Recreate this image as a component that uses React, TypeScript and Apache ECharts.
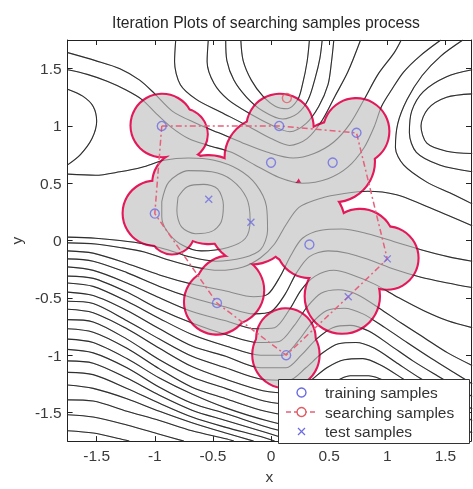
import React, { useEffect, useRef } from 'react';
import * as echarts from 'echarts';

// ---------- contour lines (data units) ----------
const cP1 = [[-1.75,1.32],[-1.62,1.26],[-1.53,1.17],[-1.50,1.04],[-1.54,0.89],[-1.64,0.75],[-1.75,0.66]];
const cMa = [[-0.80,0.38],[-0.72,0.47],[-0.58,0.49],[-0.46,0.45],[-0.41,0.31],[-0.43,0.16],[-0.51,0.08],[-0.65,0.06],[-0.77,0.12],[-0.81,0.26],[-0.80,0.38]];
const cMb = [[-0.94,0.34],[-0.88,0.51],[-0.71,0.61],[-0.51,0.60],[-0.34,0.53],[-0.21,0.37],[-0.18,0.18],[-0.22,0.02],[-0.37,-0.06],[-0.60,-0.09],[-0.78,-0.03],[-0.90,0.09],[-0.94,0.21],[-0.94,0.34]];
const cMc = [[-1.75,0.58],[-1.51,0.57],[-1.30,0.60],[-1.11,0.64],[-0.92,0.70],[-0.71,0.72],[-0.49,0.70],[-0.28,0.62],[-0.13,0.49],[-0.04,0.30],[-0.03,0.09],[-0.09,-0.08],[-0.24,-0.15],[-0.48,-0.18],[-0.71,-0.14],[-0.89,-0.08],[-1.09,-0.03],[-1.30,0.00],[-1.51,0.02],[-1.75,0.03]];
const cV4 = [[-0.26,1.75],[-0.24,1.57],[-0.17,1.40],[-0.07,1.26],[0.04,1.17],[0.14,1.15],[0.23,1.23],[0.27,1.36],[0.31,1.56],[0.33,1.75]];
const cV3 = [[-0.39,1.75],[-0.38,1.57],[-0.32,1.40],[-0.21,1.25],[-0.07,1.13],[0.10,1.06],[0.23,1.11],[0.32,1.23],[0.38,1.42],[0.42,1.59],[0.44,1.75]];
const cV2 = [[-0.54,1.75],[-0.55,1.56],[-0.49,1.37],[-0.37,1.23],[-0.17,1.10],[0.02,1.00],[0.16,0.95],[0.30,1.02],[0.41,1.17],[0.49,1.36],[0.52,1.56],[0.54,1.75]];
const cV1 = [[-0.82,1.75],[-0.83,1.56],[-0.78,1.36],[-0.64,1.23],[-0.43,1.12],[-0.20,1.00],[0.00,0.89],[0.16,0.83],[0.31,0.89],[0.44,1.05],[0.55,1.26],[0.66,1.47],[0.77,1.75]];
const cV0 = [[-1.75,1.64],[-1.51,1.57],[-1.30,1.50],[-1.13,1.40],[-1.00,1.28],[-0.85,1.13],[-0.66,1.03],[-0.45,0.94],[-0.24,0.85],[-0.03,0.77],[0.19,0.72],[0.37,0.76],[0.54,0.86],[0.68,1.02],[0.80,1.23],[0.92,1.45],[1.06,1.64],[1.12,1.75]];
const cVm1 = [[-1.75,1.49],[-1.58,1.45],[-1.41,1.39],[-1.26,1.32],[-1.11,1.23],[-0.99,1.11],[-0.86,0.99],[-0.71,0.89],[-0.54,0.83],[-0.34,0.77],[-0.14,0.66],[0.07,0.55],[0.27,0.50],[0.49,0.54],[0.66,0.64],[0.80,0.81],[0.89,1.00],[0.95,1.17],[1.04,1.32],[1.14,1.47],[1.28,1.61],[1.46,1.75]];
const cR1 = [[1.73,1.28],[1.51,1.25],[1.35,1.15],[1.29,1.00],[1.34,0.85],[1.51,0.78],[1.73,0.76]];
const cR2 = [[1.73,1.49],[1.51,1.43],[1.31,1.30],[1.21,1.13],[1.19,0.94],[1.25,0.77],[1.45,0.66],[1.73,0.60]];
const cR3 = [[1.65,1.75],[1.46,1.61],[1.30,1.44],[1.17,1.23],[1.09,1.02],[1.07,0.81],[1.14,0.66],[1.34,0.51],[1.55,0.41],[1.73,0.32]];
const cW1 = [[-1.75,-0.02],[-1.51,-0.03],[-1.30,-0.06],[-1.09,-0.10],[-0.88,-0.17],[-0.66,-0.23],[-0.45,-0.26],[-0.24,-0.23],[-0.09,-0.15],[0.03,-0.03],[0.13,0.14],[0.24,0.29],[0.43,0.37],[0.63,0.41],[0.83,0.43],[1.08,0.40],[1.31,0.31],[1.52,0.22],[1.73,0.13]];
const cW2 = [[-1.75,-0.09],[-1.53,-0.11],[-1.24,-0.20],[-0.96,-0.30],[-0.68,-0.38],[-0.39,-0.44],[-0.15,-0.49],[-0.03,-0.47],[0.08,-0.31],[0.17,-0.13],[0.27,0.02],[0.43,0.09],[0.61,0.10],[0.83,0.06],[1.06,-0.01],[1.29,-0.08],[1.52,-0.14],[1.73,-0.18]];
const cW3 = [[-1.75,-0.16],[-1.53,-0.18],[-1.24,-0.28],[-0.96,-0.40],[-0.68,-0.50],[-0.39,-0.58],[-0.15,-0.64],[0.00,-0.62],[0.12,-0.47],[0.22,-0.28],[0.33,-0.14],[0.49,-0.09],[0.66,-0.11],[0.85,-0.17],[1.06,-0.25],[1.29,-0.32],[1.52,-0.37],[1.73,-0.41]];
const cW4 = [[-1.75,-0.23],[-1.53,-0.26],[-1.24,-0.37],[-0.96,-0.50],[-0.68,-0.62],[-0.39,-0.70],[-0.14,-0.77],[0.03,-0.76],[0.16,-0.60],[0.26,-0.43],[0.38,-0.31],[0.54,-0.26],[0.70,-0.30],[0.89,-0.38],[1.10,-0.50],[1.31,-0.61],[1.52,-0.70],[1.73,-0.76]];
const cW5 = [[-1.75,-0.31],[-1.53,-0.33],[-1.24,-0.45],[-0.96,-0.60],[-0.68,-0.72],[-0.39,-0.82],[-0.11,-0.89],[0.07,-0.88],[0.20,-0.74],[0.31,-0.58],[0.43,-0.46],[0.58,-0.43],[0.74,-0.47],[0.93,-0.59],[1.12,-0.72],[1.32,-0.85],[1.52,-0.98],[1.73,-1.09]];
const cW6 = [[-1.75,-0.37],[-1.53,-0.40],[-1.24,-0.53],[-0.96,-0.68],[-0.68,-0.82],[-0.39,-0.92],[-0.09,-1.00],[0.10,-1.00],[0.23,-0.88],[0.35,-0.72],[0.48,-0.61],[0.63,-0.59],[0.79,-0.64],[0.98,-0.76],[1.17,-0.89],[1.38,-1.03],[1.57,-1.15],[1.73,-1.25]];
const cW7 = [[-1.75,-0.45],[-1.53,-0.48],[-1.24,-0.61],[-0.96,-0.77],[-0.68,-0.92],[-0.39,-1.01],[-0.09,-1.11],[0.13,-1.11],[0.26,-1.00],[0.39,-0.86],[0.53,-0.76],[0.68,-0.74],[0.84,-0.79],[1.02,-0.91],[1.22,-1.05],[1.43,-1.18],[1.73,-1.36]];
const cW8 = [[-1.75,-0.53],[-1.53,-0.55],[-1.24,-0.70],[-0.96,-0.86],[-0.68,-1.01],[-0.39,-1.11],[-0.08,-1.21],[0.15,-1.22],[0.30,-1.11],[0.43,-0.99],[0.58,-0.90],[0.73,-0.89],[0.89,-0.94],[1.07,-1.06],[1.28,-1.20],[1.51,-1.34],[1.73,-1.47]];
const cW9 = [[-1.75,-0.60],[-1.53,-0.63],[-1.24,-0.77],[-0.96,-0.94],[-0.68,-1.10],[-0.39,-1.21],[-0.07,-1.31],[0.18,-1.33],[0.33,-1.23],[0.48,-1.11],[0.63,-1.04],[0.79,-1.03],[0.95,-1.09],[1.14,-1.21],[1.36,-1.35],[1.59,-1.49],[1.73,-1.57]];
const cW10 = [[-1.75,-0.69],[-1.53,-0.71],[-1.24,-0.86],[-0.96,-1.04],[-0.68,-1.19],[-0.39,-1.29],[-0.06,-1.40],[0.20,-1.43],[0.37,-1.35],[0.52,-1.25],[0.68,-1.18],[0.84,-1.18],[1.01,-1.24],[1.21,-1.36],[1.44,-1.51],[1.73,-1.68]];
const cD1 = [[-1.75,-0.77],[-1.53,-0.80],[-1.24,-0.94],[-0.96,-1.12],[-0.68,-1.28],[-0.39,-1.38],[-0.05,-1.49],[0.23,-1.53],[0.40,-1.47],[0.56,-1.39],[0.73,-1.34],[0.90,-1.34],[1.08,-1.41],[1.29,-1.54],[1.53,-1.69],[1.63,-1.75]];
const cD2 = [[-1.75,-0.86],[-1.53,-0.89],[-1.24,-1.03],[-0.96,-1.20],[-0.68,-1.34],[-0.39,-1.46],[-0.04,-1.57],[0.26,-1.63],[0.44,-1.59],[0.61,-1.52],[0.79,-1.49],[0.97,-1.52],[1.17,-1.60],[1.40,-1.72],[1.46,-1.75]];
const cD3 = [[-1.75,-0.95],[-1.53,-0.98],[-1.24,-1.11],[-0.96,-1.28],[-0.68,-1.42],[-0.39,-1.51],[-0.03,-1.63],[0.27,-1.71],[0.37,-1.75]];
const cD4 = [[-1.75,-1.05],[-1.53,-1.07],[-1.24,-1.20],[-0.96,-1.35],[-0.68,-1.48],[-0.39,-1.57],[-0.03,-1.68],[0.19,-1.75]];
const cD5 = [[-1.75,-1.15],[-1.53,-1.17],[-1.24,-1.29],[-0.96,-1.42],[-0.68,-1.54],[-0.39,-1.63],[-0.09,-1.71],[0.03,-1.75]];
const cD6 = [[-1.75,-1.26],[-1.53,-1.29],[-1.24,-1.38],[-0.96,-1.49],[-0.68,-1.59],[-0.39,-1.68],[-0.15,-1.75]];
const cD7 = [[-1.75,-1.39],[-1.53,-1.40],[-1.24,-1.49],[-0.96,-1.57],[-0.68,-1.66],[-0.39,-1.73],[-0.32,-1.75]];
const cD8 = [[-1.75,-1.52],[-1.53,-1.54],[-1.24,-1.61],[-0.96,-1.69],[-0.75,-1.75]];
const cD9 = [[-1.75,-1.66],[-1.53,-1.68],[-1.30,-1.73],[-1.22,-1.75]];

const contourLines = [cP1, cMa, cMb, cMc, cV4, cV3, cV2, cV1, cV0, cVm1, cR1, cR2, cR3,
  cW1, cW2, cW3, cW4, cW5, cW6, cW7, cW8, cW9, cW10, cD1, cD2, cD3, cD4, cD5, cD6, cD7, cD8, cD9];

// ---------- samples ----------
const trainingSamples = [[-0.94, 1.0], [-1.0, 0.235], [0.07, 1.0], [0.735, 0.94], [0.0, 0.68], [0.53, 0.68], [0.33, -0.035], [-0.465, -0.545], [0.13, -1.0]];
const searchingSamples = [[0.136, 1.243]];
const testSamples = [[-0.536, 0.36], [-0.173, 0.16], [1.0, -0.16], [0.664, -0.49]];
const searchPath = [[-0.94, 1.0], [0.07, 1.0], [0.735, 0.94], [1.0, -0.16], [0.664, -0.49], [0.13, -1.0], [-0.465, -0.545], [-1.0, 0.235], [-0.94, 1.0]];

// covered regions: [centerX, centerY, radius]
const regionCircles = [
  [-0.936, 1.004, 0.264], [-0.766, 0.928, 0.213], [0.077, 0.987, 0.281], [0.732, 0.953, 0.277],
  [-0.051, 0.723, 0.340], [0.545, 0.689, 0.340], [-0.536, 0.357, 0.374], [-0.749, 0.502, 0.264],
  [-0.996, 0.238, 0.272], [-0.851, 0.077, 0.187], [-0.170, 0.162, 0.357], [0.272, 0.145, 0.357],
  [0.332, -0.034, 0.281], [0.766, -0.026, 0.289], [0.996, -0.153, 0.264], [0.613, -0.485, 0.315],
  [-0.468, -0.536, 0.272], [-0.357, -0.434, 0.289], [0.128, -0.851, 0.247], [0.128, -0.996, 0.281],
];

const tickValues = [-1.5, -1, -0.5, 0, 0.5, 1, 1.5];
const titleText = 'Iteration Plots of searching samples process';
const legendLabels = ['training samples', 'searching samples', 'test samples'];

const FONT = "'Liberation Sans', Arial, Helvetica, sans-serif";
const FILL = '#d6d6d6';
const CRIMSON = '#e3195a';
const BLUE = '#6c6ce2';
const RED = '#e35a62';
const PATH_RED = '#e6607a';

export default function App() {
  const ref = useRef<HTMLDivElement>(null);

  useEffect(() => {
    if (!ref.current) return;
    const chart = echarts.init(ref.current, null, { renderer: 'svg' });

    const contourBase = contourLines.map((pts) => ({
      type: 'line', data: pts, symbol: 'none', showSymbol: false, smooth: 0.3, silent: true, z: 1,
      clip: true, lineStyle: { color: '#484848', width: 1.1 },
    }));
    const contourOver = contourLines.map((pts) => ({
      type: 'line', data: pts, symbol: 'none', showSymbol: false, smooth: 0.3, silent: true, z: 5,
      clip: true, lineStyle: { color: 'rgba(0,0,0,0.36)', width: 1.05 },
    }));
    const circleLayer = (stroke: boolean) => ({
      type: 'custom', coordinateSystem: 'cartesian2d', data: regionCircles, silent: true, clip: true,
      z: stroke ? 3 : 4, encode: { x: 0, y: 1 },
      renderItem: (_p: any, api: any) => {
        const c = api.coord([api.value(0), api.value(1)]);
        const r = api.size([api.value(2), 0])[0];
        return {
          type: 'circle',
          shape: { cx: c[0], cy: c[1], r },
          style: stroke ? { fill: FILL, stroke: CRIMSON, lineWidth: 4.2 } : { fill: FILL, stroke: 'none', lineWidth: 0 },
        };
      },
    });

    const axisBase = {
      type: 'value', splitLine: { show: false },
      axisLine: { show: true, onZero: false, lineStyle: { color: '#222', width: 1 } },
      axisTick: { show: true, inside: true, length: 5, customValues: tickValues, lineStyle: { color: '#222', width: 1 } },
    };
    const labelStyle = { customValues: tickValues, fontSize: 15.5, color: '#3a3a3a', fontFamily: FONT };

    const legendX = 278.5, legendY = 379.5;
    const rowY = [392.5, 412, 431.5];

    chart.setOption({
      animation: false,
      grid: { left: 63, top: 40, width: 408, height: 410, containLabel: false },
      xAxis: [
        { ...axisBase, min: -1.75, max: 1.72, position: 'bottom', axisLabel: { ...labelStyle, margin: 6 },
          name: 'x', nameLocation: 'middle', nameGap: 34, nameTextStyle: { fontSize: 15.5, color: '#3a3a3a', fontFamily: FONT, verticalAlign: 'middle' } },
        { ...axisBase, min: -1.75, max: 1.72, position: 'top', axisLabel: { show: false } },
      ],
      yAxis: [
        { ...axisBase, min: -1.75, max: 1.75, position: 'left', axisLabel: { ...labelStyle, margin: 6 },
          name: 'y', nameLocation: 'middle', nameGap: 51, nameTextStyle: { fontSize: 15.5, color: '#3a3a3a', fontFamily: FONT, verticalAlign: 'middle' } },
        { ...axisBase, min: -1.75, max: 1.75, position: 'right', axisLabel: { show: false } },
      ],
      series: [
        ...contourBase,
        circleLayer(true),
        circleLayer(false),
        ...contourOver,
        {
          type: 'line', data: searchPath, symbol: 'none', showSymbol: false, silent: true, z: 6, clip: false,
          lineStyle: { color: PATH_RED, width: 1.5, type: [6, 3, 2, 3] },
        },
        {
          type: 'scatter', data: trainingSamples, symbol: 'circle', symbolSize: 9, silent: true, z: 7,
          itemStyle: { color: 'rgba(0,0,0,0)', borderColor: BLUE, borderWidth: 1.4 },
        },
        {
          type: 'scatter', data: searchingSamples, symbol: 'circle', symbolSize: 9, silent: true, z: 7,
          itemStyle: { color: 'rgba(0,0,0,0)', borderColor: RED, borderWidth: 1.4 },
        },
        {
          type: 'scatter', data: testSamples, symbol: 'path://M0,0L10,10M10,0L0,10', symbolSize: 7, silent: true, z: 7,
          itemStyle: { color: 'none', borderColor: BLUE, borderWidth: 1.3 },
        },
      ],
      graphic: [
        { type: 'text', x: 266, y: 22, z: 100, style: { text: titleText, font: `15.7px ${FONT}`, fill: '#262626', textAlign: 'center', textVerticalAlign: 'middle' } },
        { type: 'rect', z: 100, shape: { x: legendX, y: legendY, width: 191, height: 64 }, style: { fill: '#ffffff', stroke: '#333', lineWidth: 1 } },
        { type: 'circle', z: 101, shape: { cx: 301.5, cy: rowY[0], r: 4.5 }, style: { fill: 'none', stroke: BLUE, lineWidth: 1.4 } },
        { type: 'line', z: 101, shape: { x1: 286, y1: rowY[1], x2: 318, y2: rowY[1] }, style: { stroke: PATH_RED, lineWidth: 1.5, lineDash: [5, 3] } },
        { type: 'circle', z: 102, shape: { cx: 301.5, cy: rowY[1], r: 4.5 }, style: { fill: '#fff', stroke: RED, lineWidth: 1.4 } },
        { type: 'line', z: 101, shape: { x1: 298, y1: rowY[2] - 3.5, x2: 305, y2: rowY[2] + 3.5 }, style: { stroke: BLUE, lineWidth: 1.3 } },
        { type: 'line', z: 101, shape: { x1: 305, y1: rowY[2] - 3.5, x2: 298, y2: rowY[2] + 3.5 }, style: { stroke: BLUE, lineWidth: 1.3 } },
        ...legendLabels.map((t, i) => ({
          type: 'text', z: 101, x: 325, y: rowY[i],
          style: { text: t, font: `15.5px ${FONT}`, fill: '#333', textAlign: 'left', textVerticalAlign: 'middle' },
        })),
      ],
    });

    return () => chart.dispose();
  }, []);

  return <div ref={ref} style={{ position: 'fixed', left: 0, top: 0, width: 473, height: 489 }} />;
}
